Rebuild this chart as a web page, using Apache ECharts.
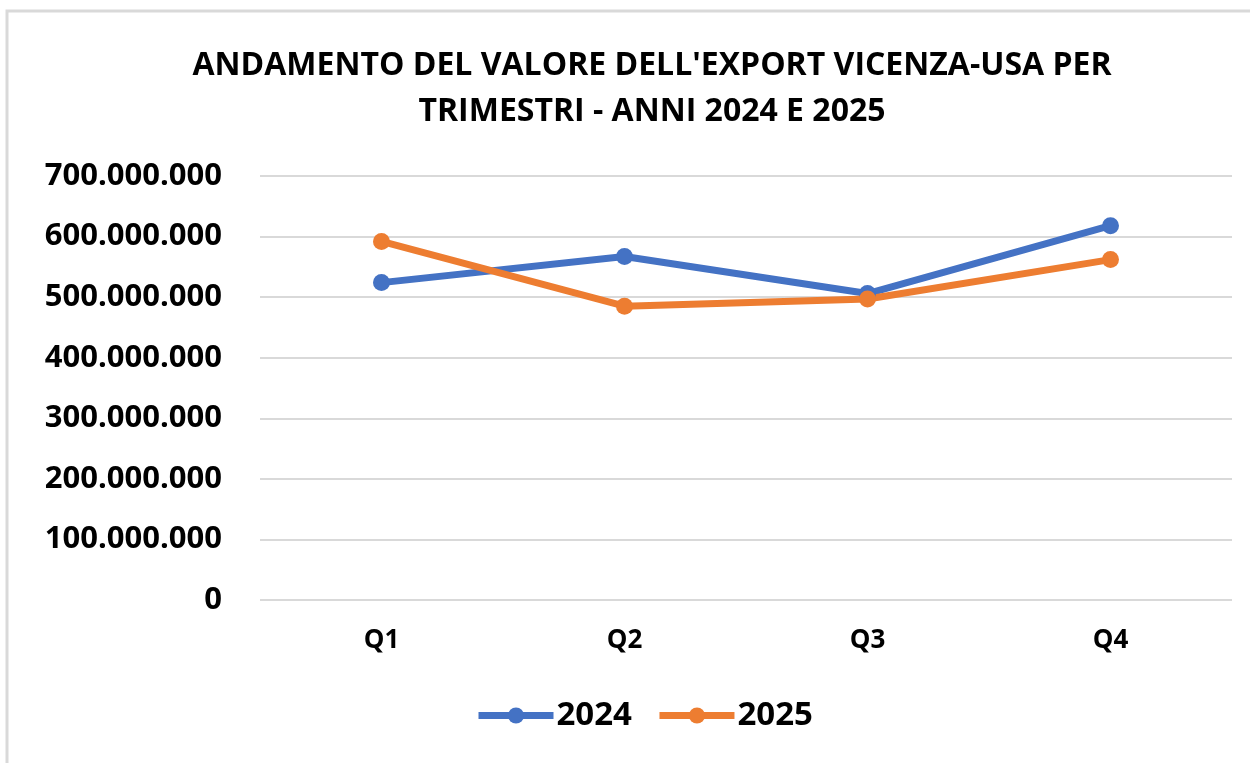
<!DOCTYPE html>
<html>
<head>
<meta charset="utf-8">
<title>Export Vicenza-USA</title>
<script src="https://cdn.jsdelivr.net/npm/echarts@6/dist/echarts.min.js"></script>
<style>
  html, body { margin: 0; padding: 0; background: #fff; }
  #chart { width: 1250px; height: 763px; }
</style>
</head>
<body>
<div id="chart"></div>
<script>
const quarters = ['Q1', 'Q2', 'Q3', 'Q4']
const export2024 = [524000000, 567000000, 506000000, 618000000]
const export2025 = [592000000, 485000000, 497000000, 562000000]
const yTicks = [0, 100000000, 200000000, 300000000, 400000000, 500000000, 600000000, 700000000]

const font = '"Open Sans", "Liberation Sans", sans-serif'
const blue = '#4472C4'
const orange = '#ED7D31'

// formatta con punto come separatore delle migliaia
function dots(v) {
  return String(v).replace(/\B(?=(\d{3})+(?!\d))/g, '.')
}

const chart = echarts.init(document.getElementById('chart'))

function lineSeries(name, data, color) {
  return {
    name,
    type: 'line',
    data,
    symbol: 'circle',
    symbolSize: 17,
    itemStyle: { color },
    lineStyle: { width: 7, color },
    animation: false
  }
}

chart.setOption({
  textStyle: { fontFamily: font },
  graphic: [{
    type: 'rect',
    shape: { x: 7, y: 11, width: 1400, height: 900 },
    style: { fill: 'none', stroke: '#d9d9d9', lineWidth: 3 },
    silent: true
  }],
  title: {
    text: "ANDAMENTO DEL VALORE DELL'EXPORT VICENZA-USA PER\nTRIMESTRI - ANNI 2024 E 2025",
    left: 647,
    top: 38,
    textAlign: 'center',
    textStyle: {
      fontFamily: font,
      fontWeight: 'bold',
      fontSize: 32,
      lineHeight: 46,
      color: '#000'
    }
  },
  legend: {
    data: ['2024', '2025'],
    left: 470,
    top: 694,
    itemWidth: 75,
    itemHeight: 20,
    itemGap: 24,
    lineStyle: { width: 7 },
    textStyle: { fontFamily: font, fontWeight: 'bold', fontSize: 33, color: '#000', padding: [0, 0, 0, -2] }
  },
  grid: {
    left: 260,
    right: 18,
    top: 176,
    bottom: 163
  },
  xAxis: {
    type: 'category',
    data: quarters,
    boundaryGap: true,
    axisLine: { show: false },
    axisTick: { show: false },
    axisLabel: {
      margin: 28,
      fontFamily: font,
      fontWeight: 'bold',
      fontSize: 26,
      color: '#000'
    }
  },
  yAxis: {
    type: 'value',
    min: yTicks[0],
    max: yTicks[yTicks.length - 1],
    interval: yTicks[1] - yTicks[0],
    axisLine: { show: false },
    axisTick: { show: false },
    splitLine: { lineStyle: { color: '#d9d9d9', width: 2 } },
    axisLabel: {
      margin: 38,
      fontFamily: font,
      fontWeight: 'bold',
      fontSize: 31,
      color: '#000',
      formatter: dots
    }
  },
  series: [
    lineSeries('2024', export2024, blue),
    lineSeries('2025', export2025, orange)
  ]
})
</script>
</body>
</html>
